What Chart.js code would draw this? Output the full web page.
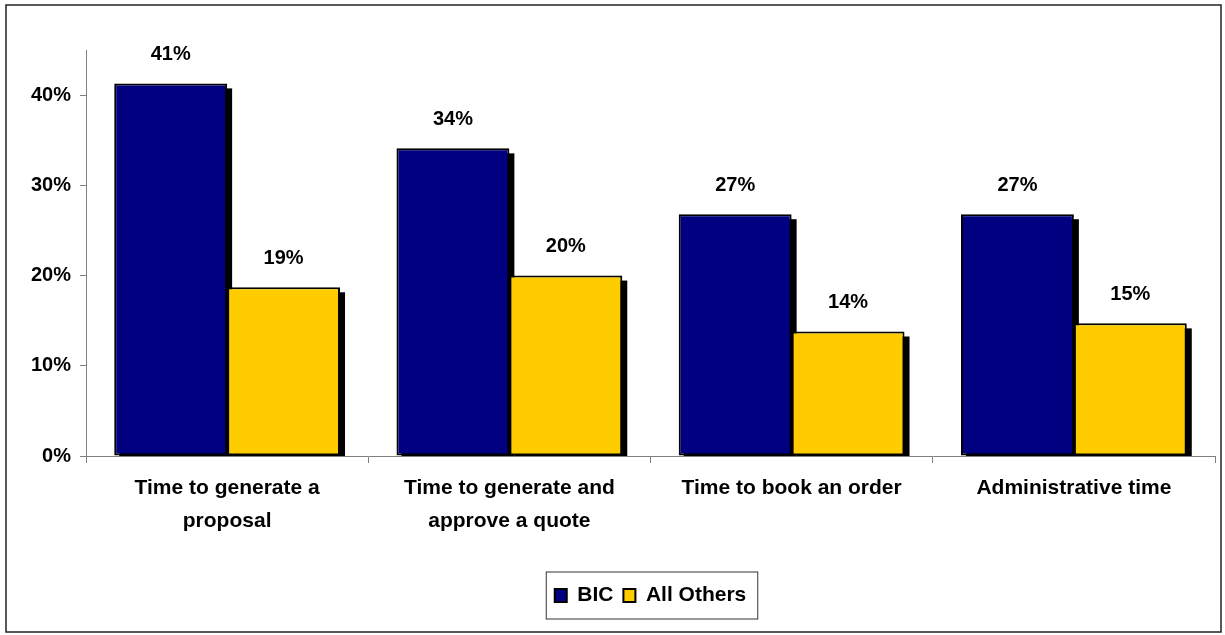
<!DOCTYPE html>
<html>
<head>
<meta charset="utf-8">
<script src="https://cdn.jsdelivr.net/npm/chart.js@4.4.0/dist/chart.umd.min.js"></script>
<style>
    html, body { margin: 0; padding: 0; background: #fff; }
    #wrap { width: 1225px; height: 635px; position: relative; }
</style>
</head>
<body>
<div id="wrap"><canvas id="timeChart"></canvas></div>
<script>
// Chart data
var categories = [
    ['Time to generate a', 'proposal'],
    ['Time to generate and', 'approve a quote'],
    'Time to book an order',
    'Administrative time'
];
var seriesNames = ['BIC', 'All Others'];
var bicValues = [41.3, 34.1, 26.8, 26.8];
var otherValues = [18.7, 20.0, 13.8, 14.7];
var yTicks = [0, 10, 20, 30, 40];

var FONT = "'Liberation Sans', Arial, sans-serif";

/** Black drop shadow behind each bar (drawn before the bars) */
var barShadow = {
    id: 'barShadow',
    beforeDatasetsDraw: function(chart) {
        var ctx = chart.ctx, area = chart.chartArea;
        ctx.save();
        ctx.beginPath();
        ctx.rect(area.left, 0, area.right - area.left + 20, area.bottom);
        ctx.clip();
        ctx.fillStyle = '#000';
        chart.data.datasets.forEach(function(ds, i) {
            chart.getDatasetMeta(i).data.forEach(function(bar) {
                var p = bar.getProps(['x', 'y', 'base', 'width'], true);
                ctx.fillRect(p.x - p.width / 2 + 5, p.y + 5, p.width, p.base - p.y);
            });
        });
        ctx.restore();
    }
};

/** Percent labels above bars */
var barLabels = {
    id: 'barLabels',
    afterDatasetsDraw: function(chart) {
        var ctx = chart.ctx;
        ctx.save();
        ctx.font = 'bold 20px ' + FONT;
        ctx.fillStyle = '#000';
        ctx.textAlign = 'center';
        ctx.textBaseline = 'middle';
        chart.data.datasets.forEach(function(ds, i) {
            chart.getDatasetMeta(i).data.forEach(function(bar, j) {
                ctx.fillText(Math.round(ds.data[j]) + '%', bar.x, bar.y - 29);
            });
        });
        ctx.restore();
    }
};

/** Outer frame and legend box */
var frames = {
    id: 'frames',
    afterDraw: function(chart) {
        var ctx = chart.ctx;
        ctx.save();
        ctx.strokeStyle = '#222';
        ctx.lineWidth = 1.5;
        ctx.strokeRect(6, 5, 1215, 627);

        var boxes = chart.legend.legendHitBoxes;
        if (boxes && boxes.length) {
            var first = boxes[0], last = boxes[boxes.length - 1];
            var cy = first.top + first.height / 2;
            ctx.lineWidth = 1;
            ctx.strokeStyle = '#333';
            ctx.strokeRect(first.left - 8.5, cy - 23.5, (last.left + last.width) - first.left + 20, 47);
        }
        ctx.restore();
    }
};

new Chart(document.getElementById('timeChart'), {
    type: 'bar',
    data: {
        labels: categories,
        datasets: [
            {
                label: seriesNames[0],
                data: bicValues,
                backgroundColor: '#000080',
                borderColor: '#000',
                borderWidth: 2,
                borderSkipped: false
            },
            {
                label: seriesNames[1],
                data: otherValues,
                backgroundColor: '#FFCC00',
                borderColor: '#000',
                borderWidth: 2,
                borderSkipped: false
            }
        ]
    },
    options: {
        responsive: true,
        maintainAspectRatio: false,
        animation: false,
        layout: { padding: { top: 50, right: 10, bottom: 19, left: 0 } },
        datasets: { bar: { categoryPercentage: 0.8, barPercentage: 1.0 } },
        plugins: {
            tooltip: { enabled: false },
            legend: {
                position: 'bottom',
                fullSize: false,
                labels: {
                    color: '#000',
                    font: { family: FONT, size: 21, weight: 'bold' },
                    boxWidth: 12,
                    boxHeight: 13,
                    padding: 10
                }
            }
        },
        scales: {
            x: {
                afterFit: function(s) { s.height = 119; },
                grid: { offset: true, drawOnChartArea: false, tickLength: 7, color: '#808080' },
                border: { color: '#808080', width: 1 },
                ticks: {
                    color: '#000',
                    padding: 9,
                    maxRotation: 0,
                    autoSkip: false,
                    font: { family: FONT, size: 21, weight: 'bold', lineHeight: 1.55 }
                }
            },
            y: {
                min: 0,
                max: 45,
                afterFit: function(s) { s.width = 86; },
                afterBuildTicks: function(s) {
                    s.ticks = yTicks.map(function(v) { return { value: v }; });
                },
                grid: { drawOnChartArea: false, tickLength: 6, color: '#808080' },
                border: { color: '#808080', width: 1 },
                ticks: {
                    color: '#000',
                    padding: 9,
                    font: { family: FONT, size: 20, weight: 'bold' },
                    callback: function(v) { return v + '%'; }
                }
            }
        }
    },
    plugins: [barShadow, barLabels, frames]
});
</script>
</body>
</html>
